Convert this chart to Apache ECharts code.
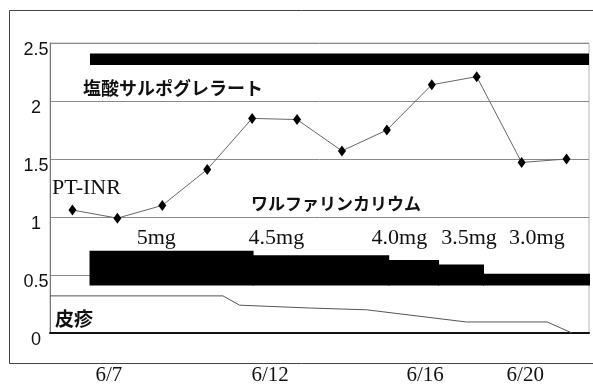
<!DOCTYPE html>
<html>
<head>
<meta charset="utf-8">
<script src="https://cdn.jsdelivr.net/npm/echarts@6/dist/echarts.min.js"></script>
<style>
  html, body { margin: 0; padding: 0; background: #fff; }
</style>
</head>
<body>
<div id="chart" style="width: 593px; height: 388px"></div>
<script>
// PT-INR, one point per day slot (x = slot centre)
const inrValues = [1.06, 0.99, 1.1, 1.41, 1.85, 1.84, 1.57, 1.75, 2.14, 2.21, 1.47, 1.5];

// date labels under the axis (slot units)
const dateLabels = ["6/7", "6/12", "6/16", "6/20"];
const datePos = [1.31, 4.9, 8.35, 10.58];

// ワルファリンカリウム dose blocks
const doseLabels = ["5mg", "4.5mg", "4.0mg", "3.5mg", "3.0mg"];
const doseStart = [0.88, 4.51, 7.53, 8.64, 9.64];
const doseEnd = [4.51, 7.53, 8.64, 9.64, 12];
const doseTop = [0.71, 0.67, 0.63, 0.59, 0.51];
const doseBase = 0.41;
const doseLabelX = [1.93, 4.42, 7.16, 8.71, 10.22];
const doseLabelY = 0.82;

// 塩酸サルポグレラート bar
const sarpoStart = 0.89;
const sarpoEnd = 12;
const sarpoTop = 2.41;
const sarpoBottom = 2.31;

// 皮疹 line
const rashX = [0, 3.85, 4.22, 5.8, 7.05, 9.27, 11.07, 11.62];
const rashY = [0.32, 0.32, 0.24, 0.215, 0.2, 0.095, 0.095, 0];

const inrData = inrValues.map((v, i) => [i + 0.5, v]);
const rashData = rashX.map((x, i) => [x, rashY[i]]);
const doseData = doseStart.map((s, i) => [s, doseEnd[i], doseTop[i], doseBase, doseLabelX[i], doseLabelY, i]);

let myChart = echarts.init(document.getElementById("chart"));
let option = {
  backgroundColor: "#fff",
  animation: false,
  grid: {
    left: 50,
    right: 4,
    top: 43,
    bottom: 55,
    show: true,
    borderColor: "#b5b5b5",
    borderWidth: 1,
  },
  xAxis: {
    type: "value",
    min: 0,
    max: 12,
    axisLine: { show: true, lineStyle: { color: "#111", width: 2 } },
    axisTick: { show: false },
    splitLine: { show: false },
    axisLabel: {
      customValues: datePos,
      formatter: (v) => dateLabels[datePos.indexOf(v)] || "",
      margin: 32,
      color: "#111",
      fontFamily: "Liberation Serif",
      fontSize: 21,
    },
  },
  yAxis: {
    type: "value",
    min: 0,
    max: 2.5,
    interval: 0.5,
    axisLine: { show: true, lineStyle: { color: "#777", width: 1 } },
    axisTick: { show: false },
    splitLine: { lineStyle: { color: "#8a8a8a", width: 1 } },
    axisLabel: {
      align: "center",
      verticalAlign: "top",
      lineHeight: 14,
      margin: 14,
      color: "#111",
      fontFamily: "Liberation Sans",
      fontSize: 18,
    },
  },
  graphic: [
    {
      type: "rect",
      silent: true,
      z: -10,
      shape: { x: 9.5, y: 10.5, width: 600, height: 353 },
      style: { fill: "none", stroke: "#444", lineWidth: 1 },
    },
    {
      type: "text",
      left: 83,
      top: 79,
      style: {
        text: "塩酸サルポグレラート",
        font: "bold 18px 'Noto Sans CJK JP'",
        fill: "#111",
      },
    },
    {
      type: "text",
      left: 52,
      top: 177,
      style: {
        text: "PT-INR",
        font: "22px 'Liberation Serif'",
        fill: "#111",
      },
    },
    {
      type: "text",
      left: 251,
      top: 195,
      style: {
        text: "ワルファリンカリウム",
        font: "bold 17px 'Noto Sans CJK JP'",
        fill: "#111",
      },
    },
    {
      type: "text",
      left: 55,
      top: 309,
      style: {
        text: "皮疹",
        font: "bold 19px 'Noto Sans CJK JP'",
        fill: "#111",
      },
    },
  ],
  series: [
    {
      name: "塩酸サルポグレラート",
      type: "custom",
      data: [[sarpoStart, sarpoEnd, sarpoTop, sarpoBottom]],
      encode: { x: [0, 1], y: [2, 3] },
      renderItem: function (params, api) {
        let p0 = api.coord([api.value(0), api.value(2)]);
        let p1 = api.coord([api.value(1), api.value(3)]);
        return {
          type: "rect",
          shape: { x: p0[0], y: p0[1], width: p1[0] - p0[0], height: p1[1] - p0[1] },
          style: { fill: "#000" },
        };
      },
      z: 2,
    },
    {
      name: "ワルファリンカリウム",
      type: "custom",
      data: doseData,
      encode: { x: [0, 1, 4], y: [2, 3, 5] },
      renderItem: function (params, api) {
        let p0 = api.coord([api.value(0), api.value(2)]);
        let p1 = api.coord([api.value(1), api.value(3)]);
        let lp = api.coord([api.value(4), api.value(5)]);
        return {
          type: "group",
          children: [
            {
              type: "rect",
              // +1 so neighbouring blocks join without a seam
              shape: { x: p0[0], y: p0[1], width: p1[0] - p0[0] + 1, height: p1[1] - p0[1] },
              style: { fill: "#000" },
            },
            {
              type: "text",
              x: lp[0],
              y: lp[1],
              style: {
                text: doseLabels[api.value(6)],
                font: "22px 'Liberation Serif'",
                fill: "#111",
                align: "left",
                verticalAlign: "middle",
              },
            },
          ],
        };
      },
      z: 2,
    },
    {
      name: "皮疹",
      type: "line",
      data: rashData,
      symbol: "none",
      lineStyle: { color: "#555", width: 1 },
      z: 3,
    },
    {
      name: "PT-INR",
      type: "line",
      data: inrData,
      symbol: "diamond",
      symbolSize: [8, 11],
      itemStyle: { color: "#000" },
      lineStyle: { color: "#666", width: 1 },
      z: 4,
    },
  ],
};
window.onresize = function () {
  myChart.resize();
};
myChart.setOption(option);
</script>
</body>
</html>
